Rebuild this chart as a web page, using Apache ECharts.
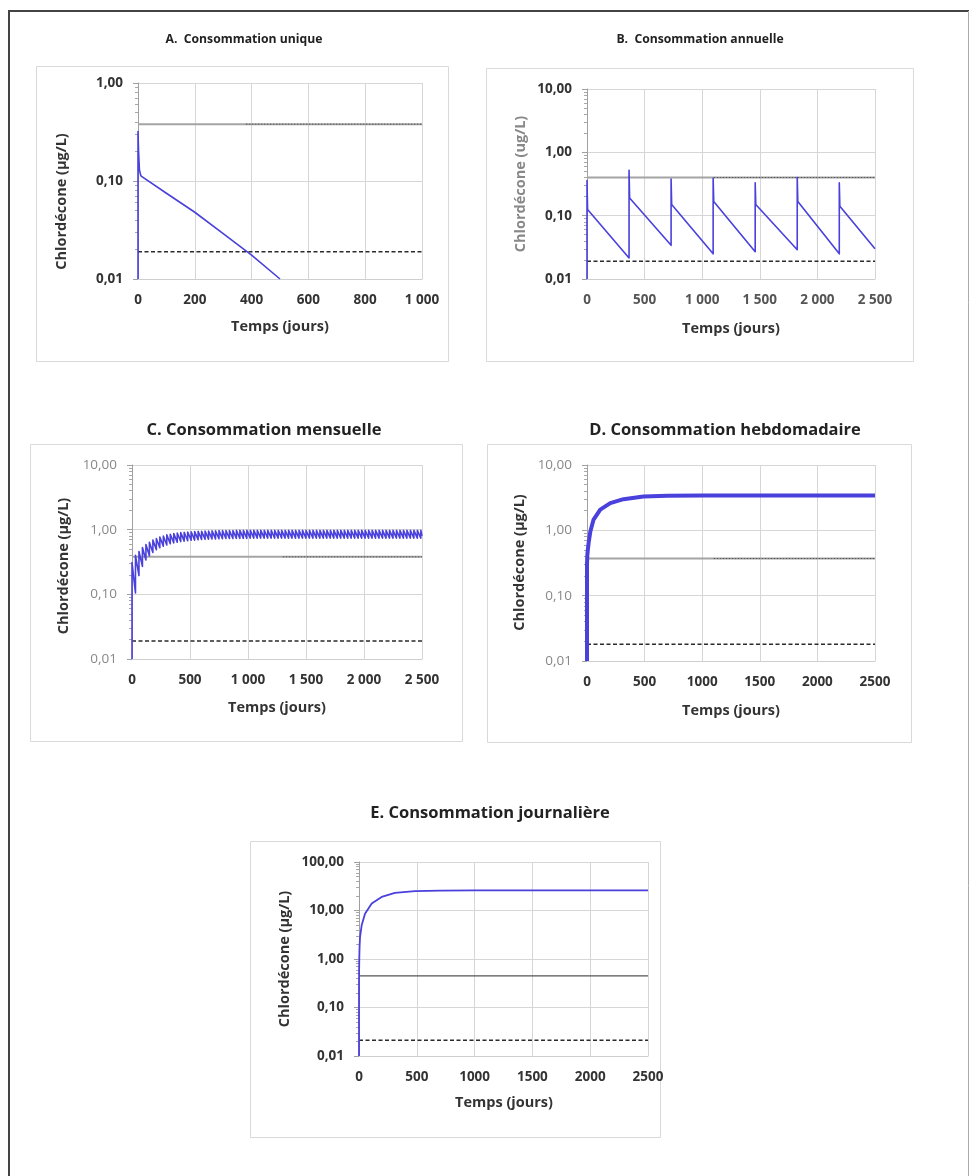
<!DOCTYPE html>
<html><head><meta charset="utf-8">
<script src="https://cdn.jsdelivr.net/npm/echarts@6/dist/echarts.min.js"></script>
<style>html,body{margin:0;padding:0;background:#fff}#c{width:973px;height:1176px}</style>
</head><body><div id="c"></div>
<script>
// ================= DATA =================
const panelTitles = ['A.  Consommation unique', 'B.  Consommation annuelle', 'C. Consommation mensuelle', 'D. Consommation hebdomadaire', 'E. Consommation journalière'];
const xAxisTitle = 'Temps (jours)';
const yAxisTitles = ['Chlordécone (µg/L)', 'Chlordécone (ug/L)', 'Chlordécone (µg/L)', 'Chlordécone (µg/L)', 'Chlordécone (µg/L)'];

const xTicksA = [0, 200, 400, 600, 800, 1000];
const xLabelsA = ['0', '200', '400', '600', '800', '1 000'];
const xTicksLong = [0, 500, 1000, 1500, 2000, 2500];
const xLabelsSpaced = ['0', '500', '1 000', '1 500', '2 000', '2 500'];
const xLabelsPlain = ['0', '500', '1000', '1500', '2000', '2500'];
const yTicks = [0.01, 0.1, 1, 10, 100];
const yLabels = ['0,01', '0,10', '1,00', '10,00', '100,00'];

// Thresholds (upper grey line, lower dashed line)
const limitHigh = [0.38, 0.40, 0.38, 0.37, 0.45];
const limitLow = [0.019, 0.019, 0.019, 0.018, 0.021];
const limitHighDottedFrom = [380, 1100, 1300, 1100, null];

// A. single intake
const timeA = [0, 0, 2, 5, 10, 100, 200, 300, 400, 500];
const concA = [0.01, 0.32, 0.2, 0.13, 0.113, 0.075, 0.048, 0.029, 0.0175, 0.01];

// B. annual intake
const doseTimeB = [0, 365, 730, 1095, 1460, 1825, 2190];
const troughB = [0.01, 0.0215, 0.034, 0.025, 0.027, 0.029, 0.025];
const peakB = [0.36, 0.52, 0.38, 0.39, 0.33, 0.40, 0.33];
const postTimeB = [5, 370, 735, 1100, 1465, 1830, 2195];
const postB = [0.125, 0.19, 0.15, 0.168, 0.15, 0.168, 0.141];
const endTimeB = 2500, endB = 0.03;

// C. monthly intake
const doseTimeC = [0, 30, 60, 90, 120, 150, 180, 210, 240, 270, 300, 330, 360, 390, 420, 450, 480, 510, 540, 570,
  600, 630, 660, 690, 720, 750, 780, 810, 840, 870, 900, 930, 960, 990, 1020, 1050, 1080, 1110, 1140, 1170,
  1200, 1230, 1260, 1290, 1320, 1350, 1380, 1410, 1440, 1470, 1500, 1530, 1560, 1590, 1620, 1650, 1680, 1710, 1740, 1770,
  1800, 1830, 1860, 1890, 1920, 1950, 1980, 2010, 2040, 2070, 2100, 2130, 2160, 2190, 2220, 2250, 2280, 2310, 2340, 2370,
  2400, 2430, 2460, 2490];
const troughC = [0.01, 0.105, 0.195, 0.27, 0.34, 0.395, 0.445, 0.49, 0.525, 0.555, 0.58, 0.605, 0.625, 0.64, 0.655, 0.665, 0.675, 0.685, 0.69, 0.70,
  0.705, 0.71, 0.715, 0.72, 0.72, 0.725, 0.725, 0.73, 0.73, 0.73, 0.735, 0.735, 0.735, 0.735, 0.74, 0.74, 0.74, 0.74, 0.74, 0.74,
  0.74, 0.74, 0.74, 0.74, 0.74, 0.74, 0.74, 0.74, 0.74, 0.74, 0.74, 0.74, 0.74, 0.74, 0.74, 0.74, 0.74, 0.74, 0.74, 0.74,
  0.74, 0.74, 0.74, 0.74, 0.74, 0.74, 0.74, 0.74, 0.74, 0.74, 0.74, 0.74, 0.74, 0.74, 0.74, 0.74, 0.74, 0.74, 0.74, 0.74,
  0.74, 0.74, 0.74, 0.74];
const peakC = [0.31, 0.40, 0.46, 0.53, 0.59, 0.64, 0.69, 0.73, 0.77, 0.80, 0.83, 0.85, 0.87, 0.89, 0.90, 0.91, 0.92, 0.93, 0.935, 0.94,
  0.945, 0.95, 0.955, 0.96, 0.96, 0.965, 0.965, 0.97, 0.97, 0.97, 0.975, 0.975, 0.975, 0.975, 0.975, 0.975, 0.975, 0.975, 0.975, 0.975,
  0.975, 0.975, 0.975, 0.975, 0.975, 0.975, 0.975, 0.975, 0.975, 0.975, 0.975, 0.975, 0.975, 0.975, 0.975, 0.975, 0.975, 0.975, 0.975, 0.975,
  0.975, 0.975, 0.975, 0.975, 0.975, 0.975, 0.975, 0.975, 0.975, 0.975, 0.975, 0.975, 0.975, 0.975, 0.975, 0.975, 0.975, 0.975, 0.975, 0.975,
  0.975, 0.975, 0.975, 0.975];
const endTimeC = 2500, endC = 0.8;

// D. weekly intake
const timeD = [0, 0, 3, 7, 14, 29, 57, 115, 202, 317, 490, 700, 1000, 1500, 2000, 2500];
const concD = [0.01, 0.3, 0.42, 0.5, 0.64, 0.96, 1.46, 2.07, 2.61, 3.0, 3.3, 3.38, 3.4, 3.4, 3.4, 3.4];

// E. daily intake
const timeE = [0, 0, 1, 3, 5, 9, 23, 52, 110, 196, 311, 484, 700, 1000, 1500, 2000, 2500];
const concE = [0.01, 0.3, 0.6, 1.2, 1.8, 2.84, 4.95, 8.6, 13.9, 19.0, 23.0, 25.2, 25.8, 26.0, 26.0, 26.0, 26.0];

// ================= LAYOUT =================
const FONT = '"Open Sans", "Liberation Sans", sans-serif';
const BLUE = '#4a40dc';
const TICKFS = 13.5, NAMEFS = 14.5;
const panels = [
  { grid: { left: 138, top: 83, width: 284, height: 196 }, xMax: 1000, xInt: 200, xTicks: xTicksA, xLabels: xLabelsA, yMax: 1,
    frame: [36, 66, 412, 295], title: [244, 40, 12.2], yTitle: [62, 201.5, '#333'], xTitle: [280, 327],
    yLabColor: '#333', yLabWeight: 'bold', xLabColor: '#333' },
  { grid: { left: 587, top: 89, width: 288, height: 190 }, xMax: 2500, xInt: 500, xTicks: xTicksLong, xLabels: xLabelsSpaced, yMax: 10,
    frame: [486, 68, 427, 293], title: [700, 40, 12.2], yTitle: [521, 184, '#888'], xTitle: [731, 329],
    yLabColor: '#333', yLabWeight: 'bold', xLabColor: '#555' },
  { grid: { left: 132, top: 465, width: 290, height: 194 }, xMax: 2500, xInt: 500, xTicks: xTicksLong, xLabels: xLabelsSpaced, yMax: 10,
    frame: [30, 444, 432, 297], title: [264, 430, 16.5], yTitle: [64, 566, '#333'], xTitle: [277, 708],
    yLabColor: '#888', yLabWeight: 'normal', xLabColor: '#333' },
  { grid: { left: 587, top: 465, width: 288, height: 196 }, xMax: 2500, xInt: 500, xTicks: xTicksLong, xLabels: xLabelsPlain, yMax: 10,
    frame: [487, 444, 424, 298], title: [725, 430, 16.5], yTitle: [520, 562.5, '#333'], xTitle: [731, 711],
    yLabColor: '#888', yLabWeight: 'normal', xLabColor: '#333' },
  { grid: { left: 359, top: 862, width: 289, height: 194 }, xMax: 2500, xInt: 500, xTicks: xTicksLong, xLabels: xLabelsPlain, yMax: 100,
    frame: [250, 841, 410, 296], title: [490, 813, 16.5], yTitle: [285, 959, '#333'], xTitle: [504, 1103],
    yLabColor: '#333', yLabWeight: 'bold', xLabColor: '#333' }
];

// ================= BUILD SERIES DATA =================
const curveA = timeA.map((t, i) => [t, concA[i]]);
const curveB = [];
doseTimeB.forEach((t, i) => { curveB.push([t, troughB[i]], [t, peakB[i]], [postTimeB[i], postB[i]]); });
curveB.push([endTimeB, endB]);
const curveC = [];
doseTimeC.forEach((t, i) => { curveC.push([t, troughC[i]], [t, peakC[i]]); });
curveC.push([endTimeC, endC]);
const curveD = timeD.map((t, i) => [t, concD[i]]);
const curveE = timeE.map((t, i) => [t, concE[i]]);
const curves = [curveA, curveB, curveC, curveD, curveE];
const curveWidths = [1.6, 1.6, 1.6, 4, 1.8];

function yFmt(v) {
  for (let i = 0; i < yTicks.length; i++) if (Math.abs(Math.log10(v) - Math.log10(yTicks[i])) < 1e-6) return yLabels[i];
  return '';
}

const option = { animation: false, grid: [], xAxis: [], yAxis: [], series: [], graphic: [] };

// outer border
option.graphic.push({ type: 'line', shape: { x1: 9, y1: 11, x2: 9, y2: 1180 }, style: { stroke: '#444', lineWidth: 2 } });
option.graphic.push({ type: 'line', shape: { x1: 8, y1: 11, x2: 969, y2: 11 }, style: { stroke: '#444', lineWidth: 2 } });
option.graphic.push({ type: 'line', shape: { x1: 968.5, y1: 11, x2: 968.5, y2: 1180 }, style: { stroke: '#aaa', lineWidth: 1 } });

panels.forEach((p, i) => {
  option.grid.push(Object.assign({ show: false, containLabel: false }, p.grid));
  option.xAxis.push({
    gridIndex: i, type: 'value', min: 0, max: p.xMax, interval: p.xInt,
    axisLine: { show: true, onZero: false, lineStyle: { color: '#cfcfcf', width: 1 } },
    axisTick: { show: false },
    splitLine: { show: true, lineStyle: { color: '#d6d6d6', width: 1 } },
    axisLabel: { margin: 14, fontFamily: FONT, fontSize: TICKFS, fontWeight: 'bold', color: p.xLabColor,
      formatter: v => { const k = p.xTicks.indexOf(v); return k >= 0 ? p.xLabels[k] : ''; } }
  });
  option.yAxis.push({
    gridIndex: i, type: 'log', logBase: 10, min: 0.01, max: p.yMax,
    axisLine: { show: true, lineStyle: { color: '#a0a0a0', width: 1 } },
    axisTick: { show: true, length: 5, lineStyle: { color: '#a0a0a0' } },
    minorTick: { show: true, splitNumber: 9, length: 3, lineStyle: { color: '#a8a8a8' } },
    splitLine: { show: true, lineStyle: { color: '#d6d6d6', width: 1 } },
    axisLabel: { margin: 15, fontFamily: FONT, fontSize: TICKFS, fontWeight: p.yLabWeight, color: p.yLabColor, formatter: yFmt }
  });
  // thresholds
  option.series.push({ type: 'line', xAxisIndex: i, yAxisIndex: i, showSymbol: false, silent: true, z: 2,
    data: [[0, limitHigh[i]], [p.xMax, limitHigh[i]]],
    lineStyle: { color: i === 4 ? '#555' : '#a4a4a4', width: i === 4 ? 1.2 : 2 } });
  if (limitHighDottedFrom[i] !== null) {
    option.series.push({ type: 'line', xAxisIndex: i, yAxisIndex: i, showSymbol: false, silent: true, z: 3,
      data: [[limitHighDottedFrom[i], limitHigh[i]], [p.xMax, limitHigh[i]]],
      lineStyle: { color: '#555', width: 1, type: [1.5, 1.5] } });
  }
  option.series.push({ type: 'line', xAxisIndex: i, yAxisIndex: i, showSymbol: false, silent: true, z: 3,
    data: [[0, limitLow[i]], [p.xMax, limitLow[i]]],
    lineStyle: { color: '#2a2a2a', width: 1.5, type: [4, 2.5] } });
  // curve
  option.series.push({ type: 'line', xAxisIndex: i, yAxisIndex: i, showSymbol: false, silent: true, z: 5, clip: true,
    data: curves[i], lineStyle: { color: BLUE, width: curveWidths[i], join: 'round' } });

  // frame
  const f = p.frame;
  option.graphic.push({ type: 'rect', z: -1, shape: { x: f[0] + 0.5, y: f[1] + 0.5, width: f[2], height: f[3] }, style: { fill: 'none', stroke: '#d9d9d9', lineWidth: 1 } });
  // titles
  option.graphic.push({ type: 'text', x: p.title[0], y: p.title[1], style: { text: panelTitles[i], font: 'bold ' + p.title[2] + 'px ' + FONT, fill: '#222', align: 'center', verticalAlign: 'middle' } });
  option.graphic.push({ type: 'text', x: p.xTitle[0], y: p.xTitle[1], style: { text: xAxisTitle, font: 'bold ' + NAMEFS + 'px ' + FONT, fill: '#333', align: 'center', verticalAlign: 'middle' } });
  option.graphic.push({ type: 'text', x: p.yTitle[0], y: p.yTitle[1], rotation: Math.PI / 2, style: { text: yAxisTitles[i], font: 'bold ' + NAMEFS + 'px ' + FONT, fill: p.yTitle[2], align: 'center', verticalAlign: 'middle' } });
});

const chart = echarts.init(document.getElementById('c'), null, { renderer: 'canvas' });
chart.setOption(option);
</script>
</body></html>
